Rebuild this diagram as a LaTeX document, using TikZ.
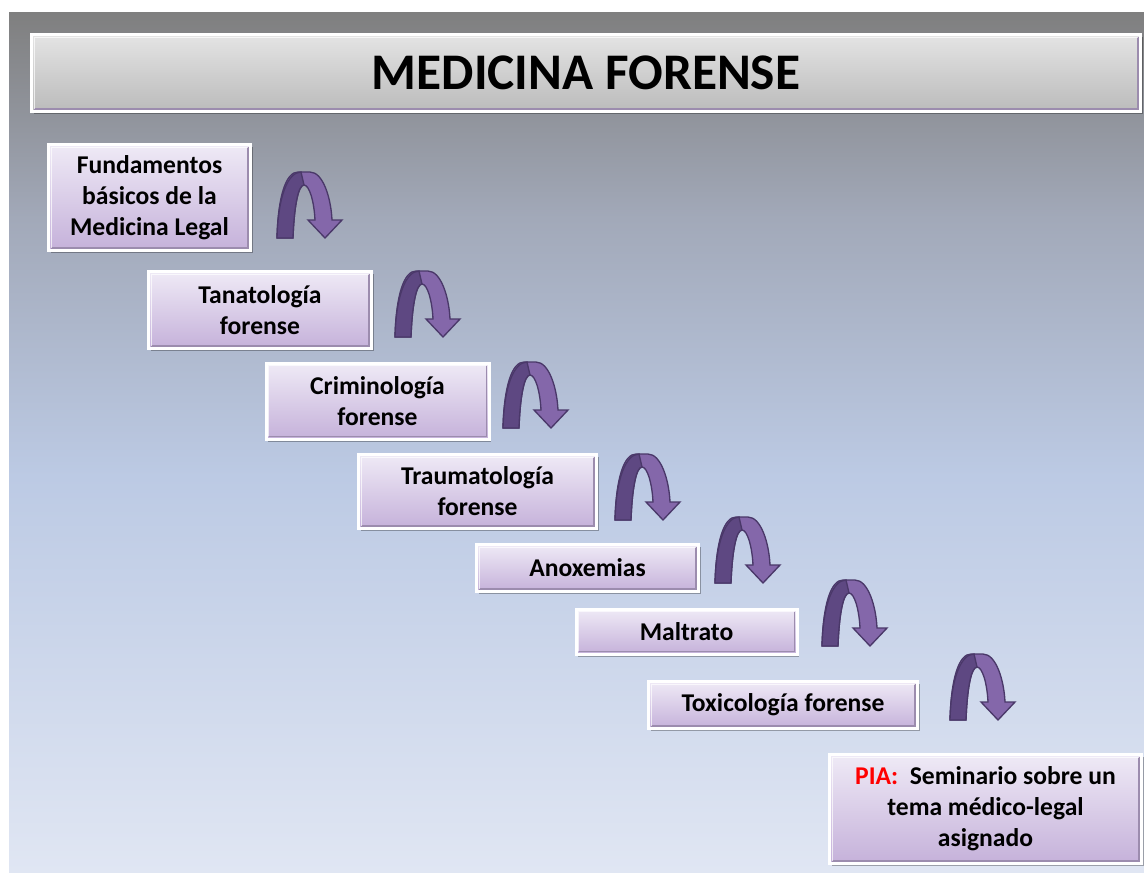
\documentclass[tikz,border=0pt]{standalone}
\usepackage{fontspec}
\setmainfont{Carlito}
\usetikzlibrary{shadows}
\definecolor{bgtop}{HTML}{7F7F7F}
\definecolor{bgupper}{HTML}{A2A9B9}
\definecolor{bgmid}{HTML}{BCCAE4}
\definecolor{bgbot}{HTML}{E0E6F3}
\definecolor{boxtop}{HTML}{EFEAF6}
\definecolor{boxbot}{HTML}{C5B1DA}
\definecolor{bevel}{HTML}{9C8CAE}
\definecolor{titletop}{HTML}{E4E4E4}
\definecolor{titlebot}{HTML}{BBBBBB}
\definecolor{arrowdark}{HTML}{5E4882}
\definecolor{arrowlight}{HTML}{8467AA}
\definecolor{arrowline}{HTML}{4A3869}
\pgfdeclareverticalshading{bgshade}{100bp}{color(0bp)=(bgbot); color(25bp)=(bgbot); color(48bp)=(bgmid); color(63bp)=(bgupper); color(75bp)=(bgtop); color(100bp)=(bgtop)}
\tikzset{
  stepbox/.style={draw=white, line width=2.25pt, top color=boxtop, bottom color=boxbot,
    font=\fontsize{19.2}{23.25}\selectfont\bfseries, align=center, inner sep=2pt,
    drop shadow={shadow xshift=1.5pt, shadow yshift=-2pt, opacity=0.3, fill=black},
    path picture={
      \draw[bevel, line width=1.2pt] ([shift={(2pt,2pt)}]path picture bounding box.south west) -| ([shift={(-2pt,-2pt)}]path picture bounding box.north east);
      \draw[white, line width=1pt, opacity=0.7] ([shift={(2pt,2pt)}]path picture bounding box.south west) |- ([shift={(-2pt,-2pt)}]path picture bounding box.north east);
    }},
  titlebox/.style={stepbox, top color=titletop, bottom color=titlebot, font=\fontsize{38.5}{40}\selectfont\bfseries},
  uarrow/.pic={
    \fill[arrowlight, draw=arrowline, line width=1pt] (0,0) .. controls (1,-42) and (9,-66) .. (21,-66) -- (33,-66)
      .. controls (46,-66) and (54,-40) .. (55,-18) -- (65,-18) -- (48,0) -- (31,-18) -- (38,-18)
      .. controls (37,-38) and (32,-53) .. (27,-53) .. controls (21,-53) and (17,-30) .. (16,0) -- cycle;
    \fill[arrowdark, draw=arrowline, line width=1pt] (0,0) .. controls (1,-42) and (11,-66) .. (24,-66) -- (27,-53)
      .. controls (21,-53) and (17,-30) .. (16,0) -- cycle;
  }
}
\begin{document}
\begin{tikzpicture}[x=0.75pt, y=-0.75pt]
  \useasboundingbox (0,0) rectangle (1144,872);
  \shade[shading=bgshade] (9,12) rectangle (1144,872);
  \node(title) [titlebox, minimum width=831.75pt, minimum height=57.75pt] at (586,73) {MEDICINA FORENSE};
  \node(fund) [stepbox, minimum width=151.5pt, minimum height=79.5pt] at (149.5,197.5) {Fundamentos\\básicos de la\\Medicina Legal};
  \node(tana) [stepbox, minimum width=167.25pt, minimum height=57.75pt] at (260,310) {Tanatología\\forense};
  \node(crim) [stepbox, minimum width=167.25pt, minimum height=57pt] at (377.5,401) {Criminología\\forense};
  \node(trauma) [stepbox, minimum width=178.5pt, minimum height=55.5pt] at (477.5,491.5) {Traumatología\\forense};
  \node(anox) [stepbox, minimum width=166.5pt, minimum height=35.25pt] at (587.5,568) {Anoxemias};
  \node(maltrato) [stepbox, minimum width=165.75pt, minimum height=33.75pt] at (686.5,631.5) {Maltrato};
  \node(toxi) [stepbox, minimum width=201.75pt, minimum height=35.25pt] at (783,705) {Toxicología forense};
  \node(pia) [stepbox, minimum width=234pt, minimum height=81.75pt] at (985.5,809) {{\color{red}PIA:}\ \ Seminario sobre un\\tema médico-legal\\asignado};
  \pic at (277,238) {uarrow};
  \pic at (395,337) {uarrow};
  \pic at (503,428) {uarrow};
  \pic at (615,520) {uarrow};
  \pic at (715,583) {uarrow};
  \pic at (822,646) {uarrow};
  \pic at (950,720) {uarrow};
\end{tikzpicture}
\end{document}
